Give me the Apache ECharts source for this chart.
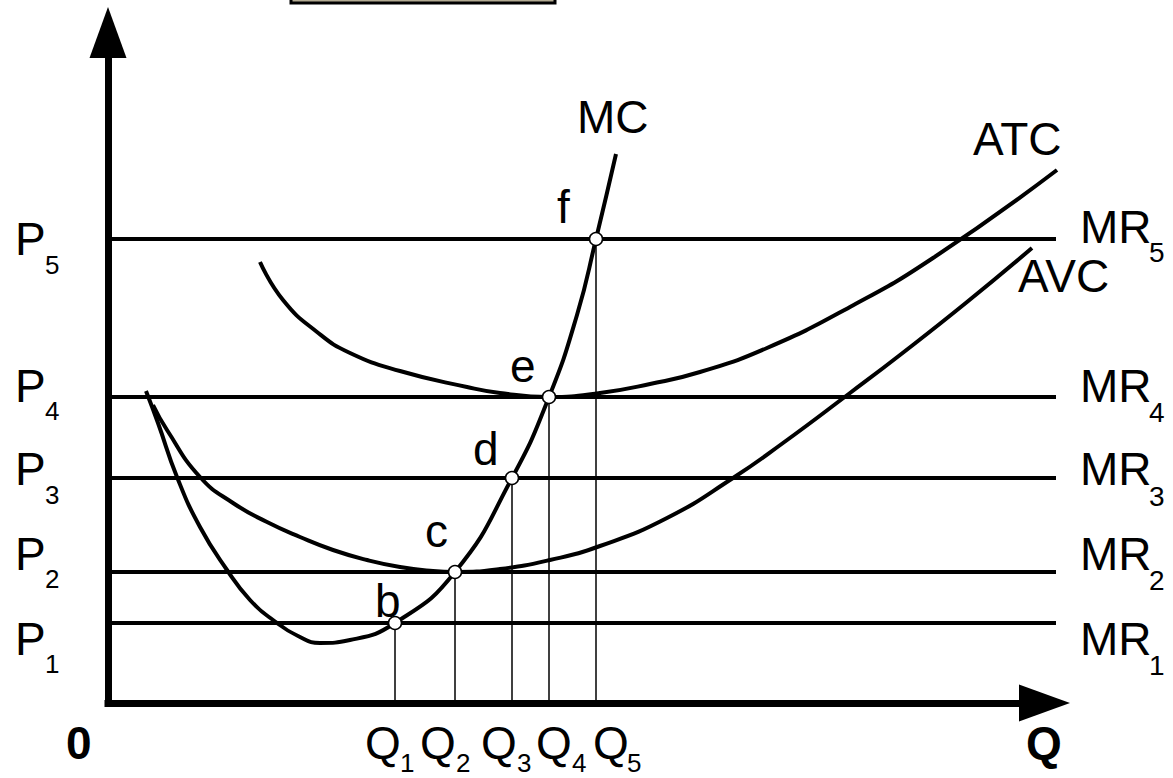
<!DOCTYPE html>
<html>
<head>
<meta charset="utf-8">
<script src="https://cdn.jsdelivr.net/npm/echarts@6/dist/echarts.min.js"></script>
<style>
html,body{margin:0;padding:0;background:#fff;}
#chart{width:1173px;height:778px;}
</style>
</head>
<body>
<div id="chart"></div>
<script>
// ---- data (arbitrary units) ----
const priceLevels = [8.0, 13.1, 22.5, 30.6, 46.4];        // P1..P5 (MR1..MR5)
const quantityLevels = [28.7, 34.7, 40.4, 44.1, 48.8];    // Q1..Q5
const mrEndQ = 94.8;                                       // where MR lines stop
const subscripts = ['1', '2', '3', '4', '5'];
const pointNames = ['b', 'c', 'd', 'e', 'f'];

const mcCurve = [
  [3.8, 31.2], [5.0, 28.0], [6.9, 22.6], [9.2, 17.6], [11.9, 13.3], [14.2, 10.3],
  [16.5, 8.3], [19.2, 6.6], [21.2, 6.0], [24.2, 6.3], [28.7, 8.0],
  [34.7, 13.1], [40.4, 22.5], [44.1, 30.6], [46.9, 38.8],
  [48.8, 46.4], [50.8, 54.9]
];
const atcCurve = [
  [15.2, 44.1], [17.5, 40.3], [20.9, 37.1], [24.2, 35.0], [29.2, 33.2], [35.9, 31.6],
  [39.2, 31.0], [44.1, 30.6], [49.2, 31.0], [54.2, 31.9], [59.2, 33.1], [65.9, 35.5],
  [74.2, 39.6], [82.5, 44.5], [94.9, 53.3]
];
const avcCurve = [
  [4.5, 29.8], [5.9, 27.3], [9.2, 22.6], [12.5, 20.0], [15.9, 18.1], [19.2, 16.6],
  [22.5, 15.3], [25.9, 14.3], [29.2, 13.6], [32.5, 13.2], [34.7, 13.1], [39.2, 13.4],
  [44.2, 14.3], [49.2, 15.7], [55.9, 18.5], [62.5, 22.5],
  [67.5, 26.0], [74.2, 31.0], [79.2, 34.8], [85.9, 40.1], [92.4, 45.5]
];

// ---- chart ----
const FONT = '"Liberation Sans", Arial, Helvetica, sans-serif';
function txt(str, x, baseline, size, weight) {
  return {
    type: 'text', x: x, y: baseline - 0.347 * size, silent: true, z: 100,
    style: {
      text: str, fill: '#000',
      font: (weight || 'normal') + ' ' + size + 'px ' + FONT,
      align: 'left', verticalAlign: 'middle',
      textAlign: 'left', textVerticalAlign: 'middle'
    }
  };
}

const graphics = [];
// box at top edge
graphics.push({
  type: 'rect', silent: true, z: 50,
  shape: { x: 291, y: -20, width: 264, height: 23 },
  style: { fill: '#b3ab93', stroke: '#000', lineWidth: 3 }
});
// price labels
const pBase = [655, 570, 485, 402, 255];
const pSubBase = [673, 588, 504, 420, 274];
const mrBase = [655, 570, 485, 402, 243];
const mrSubBase = [675, 590, 506, 422, 262];
priceLevels.forEach(function (p, i) {
  graphics.push(txt('P', 15, pBase[i], 46));
  graphics.push(txt(subscripts[i], 45, pSubBase[i], 26));
  graphics.push(txt('MR', 1080, mrBase[i], 46));
  graphics.push(txt(subscripts[i], 1149, mrSubBase[i], 28));
});
// quantity labels
const qX = [365, 420, 481, 536, 593];
const qSubX = [400, 456, 517, 572, 627];
quantityLevels.forEach(function (q, i) {
  graphics.push(txt('Q', qX[i], 759, 46));
  graphics.push(txt(subscripts[i], qSubX[i], 772, 26));
});
// point labels
const ptX = [375, 425, 473, 510, 557];
const ptBase = [617, 547, 465, 382, 223];
pointNames.forEach(function (n, i) { graphics.push(txt(n, ptX[i], ptBase[i], 46)); });
// curve labels
graphics.push(txt('MC', 577, 133, 46));
graphics.push(txt('ATC', 973, 155, 46));
graphics.push(txt('AVC', 1018, 292, 46));
// axis labels
graphics.push(txt('0', 66, 759, 46, 'bold'));
graphics.push(txt('Q', 1026, 759, 46, 'bold'));

const series = [];
function lineSeries(data, width, z, smooth) {
  return {
    type: 'line', xAxisIndex: 1, yAxisIndex: 1, data: data, smooth: smooth || false,
    symbol: 'none', showSymbol: false, clip: false, silent: true, z: z, animation: false,
    lineStyle: { color: '#000', width: width }
  };
}
priceLevels.forEach(function (p) { series.push(lineSeries([[0, p], [mrEndQ, p]], 4, 3)); });
quantityLevels.forEach(function (q, i) { series.push(lineSeries([[q, 0], [q, priceLevels[i]]], 1.5, 2)); });
[mcCurve, atcCurve, avcCurve].forEach(function (c) { series.push(lineSeries(c, 4, 4, 0.5)); });
series.push({
  type: 'scatter', xAxisIndex: 1, yAxisIndex: 1, z: 10, silent: true, animation: false,
  data: quantityLevels.map(function (q, i) { return [q, priceLevels[i]]; }),
  symbolSize: 13,
  itemStyle: { color: '#fff', borderColor: '#000', borderWidth: 1.5, opacity: 1 }
});

const visibleAxis = {
  type: 'value', min: 0, gridIndex: 0,
  axisLine: {
    show: true, onZero: false, symbol: ['none', 'triangle'], symbolSize: [37, 51],
    lineStyle: { color: '#000', width: 7, cap: 'square' }
  },
  axisTick: { show: false }, axisLabel: { show: false }, splitLine: { show: false }
};
const hiddenAxis = {
  type: 'value', min: 0, gridIndex: 1,
  axisLine: { show: false }, axisTick: { show: false }, axisLabel: { show: false }, splitLine: { show: false }
};

const chart = echarts.init(document.getElementById('chart'), null, { renderer: 'svg' });
chart.setOption({
  backgroundColor: '#fff',
  animation: false,
  grid: [
    { left: 108, right: 128.5, top: 32.5, bottom: 75, containLabel: false, z: 0 },
    { left: 108, right: 103, top: 7, bottom: 75, containLabel: false }
  ],
  xAxis: [Object.assign({}, visibleAxis, { max: 93.65 }), Object.assign({}, hiddenAxis, { max: 96.2 })],
  yAxis: [Object.assign({}, visibleAxis, { max: 67.05 }), Object.assign({}, hiddenAxis, { max: 69.6 })],
  series: series,
  graphic: graphics
});
</script>
</body>
</html>
